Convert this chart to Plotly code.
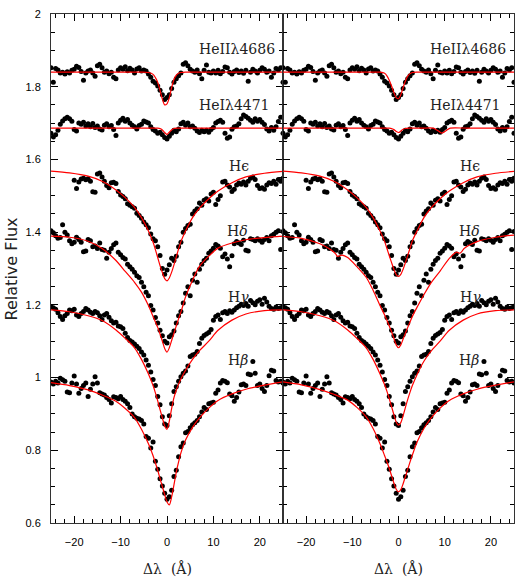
import plotly.graph_objects as go

# --- observed spectrum (same points shown in both panels) ---
DOT_X = [-25, -24.5, -24, -23.5, -23, -22.5, -22, -21.5, -21, -20.5,
         -20, -19.5, -19, -18.5, -18, -17.5, -17, -16.5, -16, -15.5,
         -15, -14.5, -14, -13.5, -13, -12.5, -12, -11.5, -11, -10.5,
         -10, -9.5, -9, -8.5, -8, -7.5, -7, -6.5, -6, -5.5,
         -5, -4.5, -4, -3.5, -3, -2.5, -2, -1.5, -1, -0.5,
         0, 0.5, 1, 1.5, 2, 2.5, 3, 3.5, 4, 4.5,
         5, 5.5, 6, 6.5, 7, 7.5, 8, 8.5, 9, 9.5,
         10, 10.5, 11, 11.5, 12, 12.5, 13, 13.5, 14, 14.5,
         15, 15.5, 16, 16.5, 17, 17.5, 18, 18.5, 19, 19.5,
         20, 20.5, 21, 21.5, 22, 22.5, 23, 23.5, 24, 24.5, 25]

HEII_DOTS = [1.852, 1.812, 1.850, 1.846, 1.838, 1.840, 1.835, 1.841, 1.838, 1.845,
             1.848, 1.856, 1.853, 1.842, 1.818, 1.838, 1.843, 1.846, 1.838, 1.829,
             1.858, 1.862, 1.852, 1.840, 1.843, 1.836, 1.840, 1.826, 1.822, 1.846,
             1.852, 1.848, 1.855, 1.844, 1.851, 1.846, 1.838, 1.849, 1.852, 1.843,
             1.846, 1.843, 1.835, 1.826, 1.815, 1.810, 1.802, 1.790, 1.778, 1.765,
             1.770, 1.778, 1.795, 1.812, 1.822, 1.830, 1.838, 1.862, 1.866, 1.858,
             1.848, 1.843, 1.840, 1.846, 1.836, 1.822, 1.845, 1.860, 1.840, 1.838,
             1.843, 1.838, 1.845, 1.836, 1.842, 1.854, 1.852, 1.840, 1.835, 1.842,
             1.846, 1.839, 1.843, 1.837, 1.845, 1.815, 1.840, 1.848, 1.843, 1.838,
             1.845, 1.852, 1.848, 1.840, 1.843, 1.826, 1.838, 1.850, 1.846, 1.852, 1.812]

HEI_DOTS = [1.672, 1.662, 1.668, 1.680, 1.697, 1.706, 1.712, 1.716, 1.712, 1.705,
            1.682, 1.678, 1.700, 1.697, 1.702, 1.692, 1.698, 1.690, 1.699, 1.688,
            1.692, 1.684, 1.681, 1.694, 1.698, 1.690, 1.693, 1.682, 1.666, 1.700,
            1.708, 1.713, 1.705, 1.710, 1.700, 1.694, 1.690, 1.684, 1.693, 1.697,
            1.706, 1.703, 1.700, 1.690, 1.682, 1.678, 1.672, 1.675, 1.668, 1.660,
            1.656, 1.664, 1.672, 1.680, 1.676, 1.684, 1.698, 1.702, 1.694, 1.700,
            1.690, 1.692, 1.686, 1.678, 1.674, 1.680, 1.676, 1.680, 1.675, 1.682,
            1.688, 1.700, 1.704, 1.708, 1.702, 1.672, 1.658, 1.662, 1.683, 1.690,
            1.692, 1.698, 1.712, 1.722, 1.718, 1.713, 1.708, 1.702, 1.712, 1.705,
            1.710, 1.702, 1.696, 1.684, 1.678, 1.688, 1.680, 1.690, 1.704, 1.716, 1.672]

HEPS_X = DOT_X[10:]
HEPS_DOTS = [1.543, 1.520, 1.538, 1.546, 1.548, 1.544, 1.547, 1.540, 1.511, 1.510,
             1.560, 1.563, 1.552, 1.540, 1.528, 1.522, 1.536, 1.537, 1.534, 1.512,
             1.502, 1.498, 1.492, 1.478, 1.474, 1.470, 1.466, 1.452, 1.446, 1.438,
             1.428, 1.420, 1.412, 1.395, 1.382, 1.376, 1.360, 1.336, 1.300, 1.284,
             1.296, 1.310, 1.328, 1.322, 1.334, 1.360, 1.372, 1.400, 1.410, 1.418,
             1.422, 1.450, 1.458, 1.464, 1.480, 1.474, 1.488, 1.492, 1.486, 1.505,
             1.510, 1.476, 1.490, 1.500, 1.538, 1.540, 1.530, 1.524, 1.512, 1.518,
             1.530, 1.535, 1.532, 1.538, 1.530, 1.540, 1.548, 1.552, 1.545, 1.528,
             1.520, 1.522, 1.518, 1.530, 1.536, 1.534, 1.540, 1.532, 1.545, 1.540, 1.548]

HDEL_DOTS = [1.404, 1.398, 1.390, 1.383, 1.385, 1.420, 1.400, 1.392, 1.376, 1.368,
             1.372, 1.386, 1.380, 1.372, 1.346, 1.348, 1.380, 1.376, 1.360, 1.362,
             1.355, 1.370, 1.352, 1.350, 1.328, 1.345, 1.355, 1.365, 1.370, 1.345,
             1.338, 1.330, 1.326, 1.312, 1.305, 1.298, 1.290, 1.280, 1.275, 1.262,
             1.250, 1.235, 1.225, 1.198, 1.186, 1.165, 1.150, 1.130, 1.115, 1.100,
             1.095, 1.112, 1.118, 1.128, 1.150, 1.170, 1.182, 1.205, 1.232, 1.250,
             1.225, 1.268, 1.285, 1.262, 1.298, 1.312, 1.322, 1.328, 1.342, 1.348,
             1.356, 1.366, 1.362, 1.356, 1.332, 1.340, 1.326, 1.305, 1.335, 1.368,
             1.374, 1.370, 1.366, 1.378, 1.350, 1.348, 1.382, 1.380, 1.376, 1.382,
             1.378, 1.372, 1.380, 1.385, 1.376, 1.390, 1.394, 1.400, 1.404, 1.352, 1.402]

HGAM_DOTS = [1.195, 1.192, 1.188, 1.178, 1.168, 1.160, 1.170, 1.176, 1.186, 1.184,
             1.188, 1.172, 1.168, 1.176, 1.182, 1.190, 1.186, 1.180, 1.176, 1.182,
             1.178, 1.170, 1.160, 1.172, 1.176, 1.166, 1.156, 1.150, 1.152, 1.142,
             1.140, 1.135, 1.122, 1.110, 1.102, 1.098, 1.092, 1.086, 1.080, 1.070,
             1.062, 1.048, 1.034, 1.015, 0.995, 0.978, 0.948, 0.925, 0.892, 0.872,
             0.868, 0.895, 0.928, 0.962, 0.975, 0.990, 1.002, 1.012, 1.018, 1.032,
             1.058, 1.062, 1.064, 1.072, 1.094, 1.108, 1.116, 1.120, 1.124, 1.132,
             1.158, 1.168, 1.172, 1.160, 1.178, 1.182, 1.176, 1.184, 1.180, 1.186,
             1.192, 1.196, 1.202, 1.198, 1.204, 1.196, 1.212, 1.206, 1.200, 1.210,
             1.214, 1.202, 1.218, 1.208, 1.196, 1.190, 1.188, 1.194, 1.190, 1.192, 1.196]

HBET_DOTS = [0.988, 0.982, 0.990, 0.985, 0.998, 0.994, 0.990, 0.960, 0.958, 0.985,
             1.004, 0.982, 0.957, 0.970, 0.978, 0.985, 0.948, 0.968, 0.982, 1.002,
             0.985, 0.958, 0.955, 0.952, 0.945, 0.940, 0.930, 0.947, 0.945, 0.942,
             0.948, 0.940, 0.935, 0.928, 0.918, 0.900, 0.892, 0.888, 0.886, 0.882,
             0.872, 0.838, 0.833, 0.806, 0.823, 0.770, 0.748, 0.722, 0.702, 0.682,
             0.665, 0.672, 0.690, 0.728, 0.745, 0.782, 0.810, 0.820, 0.848, 0.852,
             0.862, 0.870, 0.876, 0.882, 0.892, 0.905, 0.918, 0.912, 0.928, 0.930,
             0.932, 0.957, 0.966, 0.985, 0.992, 0.990, 0.986, 0.955, 0.950, 0.935,
             0.945, 0.960, 0.980, 0.982, 0.978, 1.010, 1.008, 1.044, 1.012, 0.978,
             0.982, 0.970, 0.962, 0.978, 1.005, 1.020, 1.018, 0.992, 0.988, 0.990, 0.985]

# --- model profiles (red curves) ---
MODEL_X = [-25, -21, -17, -14, -11, -9, -7, -5.5, -4, -3, -2.5, -2, -1.5, -1, -0.5,
           0, 0.5, 1, 1.5, 2, 2.5, 3, 4, 5.5, 7, 9, 11, 14, 17, 21, 25]

HEII_FIT_L = [1.840, 1.840, 1.840, 1.840, 1.840, 1.840, 1.840, 1.840, 1.839, 1.834, 1.825,
              1.812, 1.790, 1.766, 1.750, 1.753, 1.770, 1.798, 1.820, 1.832, 1.837, 1.839,
              1.840, 1.840, 1.840, 1.840, 1.840, 1.840, 1.840, 1.840, 1.840]
HEII_FIT_R = [1.840, 1.840, 1.840, 1.840, 1.840, 1.840, 1.840, 1.840, 1.840, 1.837, 1.830,
              1.818, 1.802, 1.784, 1.770, 1.767, 1.778, 1.798, 1.816, 1.829, 1.836, 1.839,
              1.840, 1.840, 1.840, 1.840, 1.840, 1.840, 1.840, 1.840, 1.840]
HEI_FIT_L = [1.686, 1.686, 1.686, 1.686, 1.686, 1.686, 1.686, 1.686, 1.686, 1.686, 1.686,
             1.686, 1.685, 1.681, 1.674, 1.669, 1.675, 1.681, 1.685, 1.686, 1.686, 1.686,
             1.686, 1.686, 1.686, 1.686, 1.686, 1.686, 1.686, 1.686, 1.686]
HEI_FIT_R_X = [-25, -15, -5, -2, -1.5, -1, -0.5, 0, 0.5, 1, 1.5, 2, 5, 7.5, 8.3, 9.0,
               9.4, 9.8, 10.5, 11.2, 15, 25]
HEI_FIT_R = [1.686, 1.686, 1.686, 1.686, 1.685, 1.682, 1.677, 1.674, 1.678, 1.683, 1.685,
             1.686, 1.686, 1.686, 1.681, 1.675, 1.672, 1.675, 1.681, 1.686, 1.686, 1.686]
HEPS_FIT_L = [1.568, 1.563, 1.554, 1.540, 1.516, 1.495, 1.468, 1.440, 1.403, 1.372, 1.352,
              1.330, 1.308, 1.289, 1.272, 1.266, 1.274, 1.290, 1.310, 1.332, 1.354, 1.374,
              1.403, 1.440, 1.466, 1.492, 1.513, 1.536, 1.552, 1.562, 1.567]
HEPS_FIT_R = [1.568, 1.563, 1.554, 1.540, 1.516, 1.495, 1.468, 1.440, 1.403, 1.374, 1.355,
              1.335, 1.316, 1.298, 1.283, 1.278, 1.284, 1.298, 1.316, 1.336, 1.356, 1.376,
              1.403, 1.440, 1.466, 1.492, 1.513, 1.536, 1.552, 1.562, 1.567]
HDEL_FIT_L = [1.389, 1.386, 1.375, 1.355, 1.322, 1.292, 1.262, 1.235, 1.198, 1.168, 1.153,
              1.138, 1.120, 1.100, 1.080, 1.070, 1.082, 1.102, 1.122, 1.142, 1.162, 1.180,
              1.222, 1.268, 1.306, 1.334, 1.356, 1.370, 1.379, 1.385, 1.389]
HDEL_FIT_R_X = [-25, -21, -17, -14.5, -13.6, -13.2, -12.8, -12.2, -11, -9, -7, -5.5, -4,
                -3, -2.5, -2, -1.5, -1, -0.5, 0, 0.5, 1, 1.5, 2, 2.5, 3, 4, 5.5, 7, 9,
                11, 12.6, 13.2, 13.6, 14.2, 17, 21, 25]
HDEL_FIT_R = [1.388, 1.383, 1.368, 1.350, 1.340, 1.333, 1.335, 1.337, 1.330, 1.305, 1.276,
              1.240, 1.198, 1.172, 1.157, 1.142, 1.126, 1.108, 1.090, 1.082, 1.090, 1.106,
              1.122, 1.138, 1.153, 1.168, 1.193, 1.228, 1.260, 1.293, 1.328, 1.345, 1.342,
              1.345, 1.355, 1.374, 1.386, 1.392]
HGAM_FIT_L = [1.186, 1.181, 1.170, 1.157, 1.131, 1.108, 1.082, 1.050, 1.010, 0.978, 0.958,
              0.936, 0.912, 0.889, 0.867, 0.858, 0.880, 0.915, 0.945, 0.965, 0.982, 0.996,
              1.020, 1.050, 1.074, 1.100, 1.130, 1.158, 1.175, 1.184, 1.186]
HGAM_FIT_R = [1.186, 1.181, 1.170, 1.157, 1.131, 1.108, 1.082, 1.050, 1.010, 0.980, 0.962,
              0.942, 0.920, 0.898, 0.878, 0.869, 0.876, 0.895, 0.918, 0.940, 0.960, 0.978,
              1.008, 1.045, 1.072, 1.100, 1.130, 1.158, 1.175, 1.184, 1.186]
HBET_FIT_L = [0.986, 0.978, 0.966, 0.952, 0.935, 0.915, 0.890, 0.858, 0.818, 0.785, 0.765,
              0.745, 0.722, 0.700, 0.678, 0.658, 0.650, 0.672, 0.705, 0.740, 0.768, 0.793,
              0.828, 0.863, 0.889, 0.916, 0.937, 0.955, 0.968, 0.979, 0.988]
HBET_FIT_R = [0.988, 0.980, 0.967, 0.954, 0.938, 0.918, 0.892, 0.860, 0.818, 0.785, 0.768,
              0.750, 0.730, 0.710, 0.693, 0.686, 0.692, 0.708, 0.728, 0.748, 0.768, 0.787,
              0.822, 0.860, 0.888, 0.916, 0.937, 0.955, 0.968, 0.979, 0.988]

# --- line labels ---
LABELS = ["HeIIλ4686", "HeIλ4471", "Hϵ", "H<i>δ</i>", "H<i>γ</i>", "H<i>β</i>"]
LABEL_X = [23.6, 22.6, 12.9, 12.6, 12.8, 12.7]
LABEL_Y = [1.904, 1.751, 1.582, 1.402, 1.222, 1.048]
LABEL_ANCHOR = ["right", "right", "left", "left", "left", "left"]

observed = [(DOT_X, HEII_DOTS), (DOT_X, HEI_DOTS), (HEPS_X, HEPS_DOTS),
            (DOT_X, HDEL_DOTS), (DOT_X, HGAM_DOTS), (DOT_X, HBET_DOTS)]
fits_left = [(MODEL_X, HEII_FIT_L), (MODEL_X, HEI_FIT_L), (MODEL_X, HEPS_FIT_L),
             (MODEL_X, HDEL_FIT_L), (MODEL_X, HGAM_FIT_L), (MODEL_X, HBET_FIT_L)]
fits_right = [(MODEL_X, HEII_FIT_R), (HEI_FIT_R_X, HEI_FIT_R), (MODEL_X, HEPS_FIT_R),
              (HDEL_FIT_R_X, HDEL_FIT_R), (MODEL_X, HGAM_FIT_R), (MODEL_X, HBET_FIT_R)]

fig = go.Figure()

for xa, ya, fits in [("x", "y", fits_left), ("x2", "y2", fits_right)]:
    for xs, ys in observed:
        fig.add_trace(go.Scatter(x=xs, y=ys, mode="markers", xaxis=xa, yaxis=ya,
                                 marker=dict(size=5, color="black"),
                                 showlegend=False, hoverinfo="skip"))
    for xs, ys in fits:
        fig.add_trace(go.Scatter(x=xs, y=ys, mode="lines", xaxis=xa, yaxis=ya,
                                 line=dict(color="#ff0000", width=1.2, shape="spline",
                                           smoothing=0.8),
                                 showlegend=False, hoverinfo="skip"))
    for txt, lx, ly, anc in zip(LABELS, LABEL_X, LABEL_Y, LABEL_ANCHOR):
        fig.add_annotation(x=lx, y=ly, xref=xa, yref=ya, text=txt, showarrow=False,
                           xanchor=anc, yanchor="middle",
                           font=dict(family="DejaVu Serif", size=14, color="#222"))

tick_font = dict(family="Liberation Sans", size=11, color="black")
common_x = dict(range=[-25, 25], tickvals=[-20, -10, 0, 10, 20], ticks="inside",
                ticklen=7, tickwidth=1, tickcolor="black", mirror="allticks",
                showline=True, linecolor="#333", linewidth=1, showgrid=False,
                zeroline=False, tickfont=tick_font, ticklabelstandoff=9,
                automargin=False,
                minor=dict(dtick=2, tick0=0, ticks="inside", ticklen=4,
                           tickcolor="black", showgrid=False))
common_y = dict(range=[0.6, 2], dtick=0.2, tick0=0.6, ticks="inside", ticklen=7,
                tickwidth=1, tickcolor="black", mirror="allticks", showline=True,
                linecolor="#333", linewidth=1, showgrid=False, zeroline=False,
                tickfont=tick_font, ticklabelstandoff=7, automargin=False,
                minor=dict(dtick=0.05, tick0=0.6, ticks="inside", ticklen=4,
                           tickcolor="black", showgrid=False))

split = 232 / 463
fig.update_layout(
    width=521, height=579,
    margin=dict(l=51, r=7, t=14, b=56, autoexpand=False),
    paper_bgcolor="white", plot_bgcolor="white",
    xaxis=dict(domain=[0, split], anchor="y", **common_x),
    xaxis2=dict(domain=[split, 1], anchor="y2", **common_x),
    yaxis=dict(domain=[0, 1], anchor="x", **common_y),
    yaxis2=dict(domain=[0, 1], anchor="x2", showticklabels=False, **common_y),
)

# axis titles
for xref in ["x domain", "x2 domain"]:
    fig.add_annotation(x=0.5, y=-0.09, xref=xref, yref="paper", text="Δλ  (Å)",
                       showarrow=False, xanchor="center", yanchor="middle",
                       font=dict(family="DejaVu Serif", size=14, color="#222"))
fig.add_annotation(x=-0.0845, y=0.5, xref="paper", yref="paper", text="Relative Flux",
                   textangle=-90, showarrow=False, xanchor="center", yanchor="middle",
                   font=dict(family="DejaVu Sans", size=16, color="#222"))

# the page body has a default margin; remove it so the figure sits at the top-left corner
fig.write_html("out.html", config={"displayModeBar": False},
               post_script="document.body.style.margin='0';")
